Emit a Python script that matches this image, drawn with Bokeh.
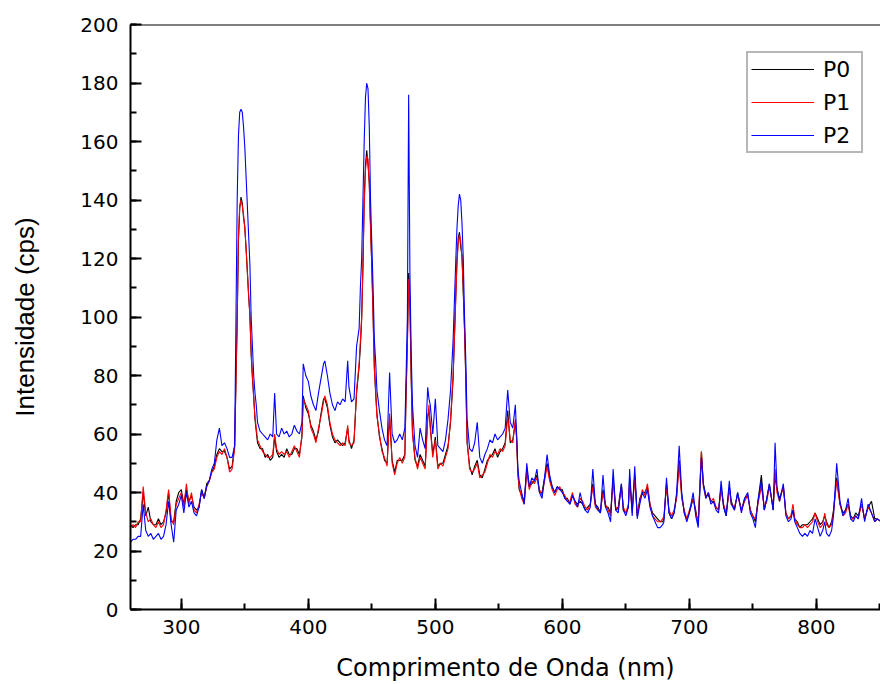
from bokeh.plotting import figure
from bokeh.models import Span, SingleIntervalTicker, Legend, LegendItem, Range1d
from bokeh.embed import file_html
from bokeh.resources import INLINE

wavelength = [
    260, 262, 264, 266, 268, 270, 272, 274, 276, 278, 280, 282, 284, 286, 288, 290, 292, 294, 296, 298,
    300, 302, 304, 306, 308, 310, 312, 314, 316, 318, 320, 322, 324, 326, 328, 330, 332, 334, 336, 338, 340, 342,
    344, 345, 346, 347, 348, 349, 350, 351, 352, 353, 354, 355, 356, 357, 358, 359, 360,
    362, 364, 366, 368, 370, 372, 373.5, 375, 377, 379, 381, 383, 385, 387, 389, 391, 393, 395, 396, 398,
    400, 402, 404, 406, 408, 410, 412, 413, 415, 417, 419, 421, 423, 425, 427, 429, 431, 432, 434, 436, 438, 440,
    441, 442, 443, 444, 445, 446, 447, 448, 449, 450, 451, 452, 453, 454, 456, 458, 460,
    462, 464, 466, 468, 470, 472, 474, 476, 477, 478, 479, 480, 481, 482, 484, 486, 488, 490, 492, 494,
    495, 496, 498, 500, 502, 504, 506, 508, 510,
    512, 514, 516, 517, 518, 519, 520, 521, 522, 523, 524, 525, 527, 529, 531, 533, 535, 537, 539,
    541, 543, 545, 547, 549, 551, 553, 555, 557, 559, 561, 563, 564, 565, 566, 568, 570,
    572, 574, 576, 578, 580, 582, 584, 586, 588, 590, 592, 594, 596, 598, 600, 602, 604, 606, 608, 610,
    612, 614, 616, 618, 620, 622, 624, 626, 628, 630, 632, 634, 636, 638, 640,
    642, 644, 646.5, 648, 650, 652, 653, 655, 657, 659, 661, 663, 665, 667, 669, 671, 673, 675, 677, 679,
    680, 682, 684, 686, 688, 690, 692, 694, 696, 698,
    700, 703, 705, 707, 709.5, 711, 713, 715, 717, 719, 721, 723, 725, 727, 729, 731.5, 733, 735.5, 738, 741,
    743.5, 746, 748, 750, 752, 754, 756.7, 759,
    761, 763, 766, 767.5, 769, 771, 774, 776, 778, 780, 781.6, 783, 785, 787, 789, 791, 793, 795, 797, 799,
    801, 803, 805, 806.6, 808, 810, 812, 813.5, 816, 818.6, 821, 823, 825, 827, 829, 831, 833, 835.6, 838, 840.8,
    843.4, 846, 848, 851,
]

p0_values = [
    29, 28, 29, 29, 31, 40, 32, 35, 30, 29, 29, 31, 29, 30, 33, 40, 30, 30, 37, 40,
    41, 36, 41, 37, 39, 35, 34, 35, 41, 38, 43, 44, 47, 49, 53, 55, 54, 54, 52, 48, 49, 56,
    98, 126, 137, 141, 139, 134, 131, 123, 116, 107, 101, 87, 79, 73, 65, 61, 57,
    55, 55, 52, 53, 51, 52, 59, 54, 52, 53, 52, 55, 53, 53, 55, 55, 53, 59, 73, 69,
    67, 63, 61, 58, 61, 67, 72, 72, 69, 63, 59, 57, 58, 57, 56, 57, 62, 58, 55, 58, 74, 83,
    90, 99, 117, 140, 152, 157, 152, 146, 131, 117, 101, 83, 74, 67, 59, 55, 51,
    50, 66, 51, 47, 51, 51, 51, 53, 74, 92, 115, 104, 79, 61, 51, 49, 53, 51, 49, 66,
    68, 63, 53, 59, 49, 50, 50, 53, 56,
    64, 79, 106, 119, 127, 129, 124, 121, 108, 96, 78, 57, 49, 46, 49, 51, 46, 45, 48,
    51, 52, 53, 55, 52, 54, 55, 57, 68, 57, 58, 64, 59, 47, 41, 39, 37,
    48, 42, 43, 44, 46, 40, 40, 45, 50, 45, 42, 40, 42, 41, 41, 38, 38, 36, 39, 37,
    36, 37, 36, 34, 35, 36, 43, 36, 35, 33, 41, 35, 35, 33, 45,
    34, 35, 43, 34, 33, 35, 45, 34, 46, 32, 38, 40, 40, 42, 36, 33, 32, 31, 30, 30,
    31, 43, 33, 31, 33, 39, 51, 39, 33, 31,
    33, 38, 34, 29, 54, 43, 39, 39, 37, 37, 35, 34, 42, 35, 32, 42, 37, 34, 40, 34,
    38, 39, 34, 32, 30, 37, 46, 34,
    38, 43, 34, 46, 41, 38, 42, 33, 31, 32, 34, 31, 30, 28, 29, 29, 29, 30, 31, 33,
    31, 29, 30, 32, 30, 28, 30, 34, 45, 36, 33, 34, 36, 32, 31, 33, 32, 36, 31, 35,
    37, 31, 31, 30,
]

p1_values = [
    28, 29, 28, 30, 30, 42, 33, 30, 31, 29, 28, 30, 28, 29, 34, 41, 31, 29, 36, 38,
    40, 35, 43, 36, 40, 34, 33, 36, 40, 38, 42, 44, 47, 48, 52, 54, 53, 55, 52, 47, 48, 55,
    100, 128, 138, 140, 138, 135, 130, 124, 115, 108, 100, 88, 80, 72, 66, 62, 58,
    56, 54, 53, 52, 52, 53, 60, 55, 53, 54, 53, 54, 52, 54, 56, 54, 52, 60, 72, 70,
    68, 62, 60, 57, 62, 66, 71, 73, 70, 64, 60, 58, 57, 56, 57, 56, 63, 57, 56, 57, 75, 84,
    92, 100, 118, 138, 150, 155, 154, 145, 130, 118, 100, 82, 75, 66, 60, 54, 52,
    49, 67, 50, 46, 50, 52, 50, 52, 75, 90, 113, 105, 80, 60, 52, 48, 52, 50, 48, 65,
    70, 62, 52, 58, 48, 50, 49, 52, 55,
    65, 80, 105, 118, 125, 128, 126, 120, 110, 95, 80, 58, 48, 47, 48, 50, 45, 46, 47,
    50, 53, 52, 54, 53, 55, 54, 56, 66, 58, 57, 65, 58, 46, 42, 38, 36,
    47, 41, 44, 43, 45, 41, 39, 44, 49, 44, 41, 39, 41, 42, 40, 39, 37, 37, 40, 36,
    35, 38, 37, 35, 34, 36, 42, 35, 34, 34, 40, 36, 34, 32, 44,
    35, 34, 42, 35, 33, 36, 44, 33, 45, 32, 37, 41, 39, 43, 36, 32, 31, 30, 30, 31,
    32, 42, 34, 32, 34, 38, 50, 38, 34, 31,
    34, 38, 33, 30, 54, 42, 38, 40, 37, 38, 35, 34, 41, 36, 33, 41, 36, 35, 39, 34,
    37, 39, 34, 32, 31, 36, 42, 35,
    37, 42, 35, 48, 40, 37, 42, 33, 31, 32, 36, 31, 29, 28, 28, 29, 28, 29, 30, 33,
    30, 28, 29, 33, 29, 28, 29, 33, 44, 36, 32, 33, 36, 31, 31, 32, 31, 36, 31, 35,
    33, 30, 31, 30,
]

p2_values = [
    23, 24, 24, 25, 25, 36, 27, 25, 26, 24, 25, 26, 24, 25, 29, 37, 29, 23, 34, 36,
    39, 33, 40, 35, 37, 33, 32, 35, 41, 38, 42, 44, 48, 50, 58, 62, 56, 57, 55, 52, 52, 56,
    140, 162, 170, 171, 170, 165, 158, 148, 138, 128, 118, 100, 90, 80, 74, 70, 64,
    61, 60, 59, 58, 60, 59, 74, 60, 59, 62, 60, 61, 59, 60, 63, 61, 60, 64, 84, 80,
    78, 73, 70, 68, 74, 79, 84, 85, 80, 74, 70, 68, 71, 70, 72, 71, 85, 76, 71, 72, 90, 96,
    110, 120, 140, 160, 175, 180, 178, 165, 140, 125, 110, 92, 85, 75, 68, 62, 58,
    56, 81, 60, 57, 58, 60, 58, 62, 80, 100, 176, 115, 88, 70, 56, 52, 62, 58, 55, 76,
    72, 70, 60, 72, 56, 55, 54, 58, 65,
    75, 92, 118, 130, 138, 142, 140, 132, 120, 100, 85, 65, 55, 54, 57, 64, 52, 50, 53,
    55, 58, 57, 60, 58, 59, 60, 62, 75, 64, 62, 70, 60, 48, 44, 40, 36,
    50, 42, 45, 44, 48, 40, 38, 45, 53, 46, 42, 40, 42, 41, 40, 38, 37, 36, 39, 37,
    35, 40, 36, 34, 33, 35, 48, 36, 34, 33, 46, 35, 33, 30, 48,
    34, 33, 43, 34, 32, 35, 48, 32, 49, 31, 36, 40, 38, 41, 35, 32, 30, 28, 28, 29,
    30, 45, 33, 31, 33, 40, 56, 40, 33, 30,
    33, 40, 32, 28, 52, 43, 38, 40, 36, 37, 34, 33, 44, 35, 32, 44, 36, 34, 40, 33,
    38, 40, 33, 31, 28, 37, 44, 34,
    38, 43, 34, 57, 42, 37, 43, 32, 30, 31, 34, 30, 28, 26, 25, 26, 25, 27, 26, 31,
    28, 25, 27, 30, 26, 25, 27, 32, 50, 37, 32, 34, 38, 31, 30, 32, 31, 38, 30, 36,
    33, 30, 31, 30,
]

series_names = ["P0", "P1", "P2"]
series_colors = ["#000000", "#ff0000", "#0000ff"]
series_values = [p0_values, p1_values, p2_values]

x_title = "Comprimento de Onda (nm)"
y_title = "Intensidade (cps)"

p = figure(width=880, height=684, output_backend="svg", toolbar_location=None,
           x_range=Range1d(260, 850.5), y_range=Range1d(0, 200),
           min_border_left=130, min_border_right=0, min_border_top=24, min_border_bottom=75)
p.outline_line_color = None
p.xgrid.visible = False
p.ygrid.visible = False
p.background_fill_color = "white"
p.border_fill_color = "white"

items = []
for name, color, vals in zip(series_names, series_colors, series_values):
    r = p.line(wavelength, vals, line_color=color, line_width=1.1)
    items.append(LegendItem(label=name, renderers=[r]))

p.xaxis.ticker = SingleIntervalTicker(interval=100, num_minor_ticks=2)
p.yaxis.ticker = SingleIntervalTicker(interval=20, num_minor_ticks=2)

for ax in (p.xaxis, p.yaxis):
    ax.axis_line_width = 2
    ax.axis_line_color = "black"
    ax.major_tick_in = 11
    ax.major_tick_out = 0
    ax.minor_tick_in = 6
    ax.minor_tick_out = 0
    ax.major_tick_line_width = 2
    ax.minor_tick_line_width = 2
    ax.major_tick_line_color = "black"
    ax.minor_tick_line_color = "black"
    ax.major_label_text_font = "DejaVu Sans"
    ax.major_label_text_font_size = "20px"
    ax.major_label_text_color = "black"
    ax.axis_label_text_font_style = "normal"
    ax.axis_label_text_color = "black"

p.xaxis.major_label_standoff = 10
p.yaxis.major_label_standoff = 12

p.xaxis.axis_label = x_title
p.xaxis.axis_label_text_font = "DejaVu Sans"
p.xaxis.axis_label_text_font_size = "24px"
p.xaxis.axis_label_standoff = 17

p.yaxis.axis_label = y_title
p.yaxis.axis_label_text_font = "Liberation Sans"
p.yaxis.axis_label_text_font_size = "26px"
p.yaxis.axis_label_standoff = 37

p.add_layout(Span(location=200, dimension="width", line_color="black", line_width=2))

legend = Legend(items=items, location=(616, 456), orientation="vertical")
legend.label_text_font = "DejaVu Sans"
legend.label_text_font_size = "22px"
legend.label_text_color = "black"
legend.glyph_width = 63
legend.glyph_height = 26
legend.label_height = 26
legend.label_width = 35
legend.label_standoff = 9
legend.spacing = 7
legend.padding = 3
legend.margin = 0
legend.border_line_color = "#707070"
legend.border_line_width = 2
legend.background_fill_color = "white"
legend.background_fill_alpha = 1
p.add_layout(legend)

open("out.html", "w").write(file_html(p, INLINE))
